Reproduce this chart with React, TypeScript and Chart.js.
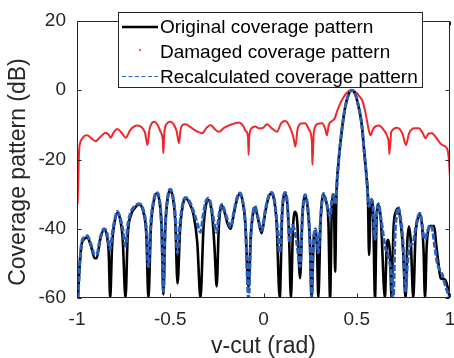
import React, { useEffect, useRef } from 'react';
import { Chart, registerables } from 'chart.js';

Chart.register(...registerables);

const X_TICKS = [-1, -0.5, 0, 0.5, 1];
const Y_TICKS = [-60, -40, -20, 0, 20];
const X_TITLE = 'v-cut (rad)';
const Y_TITLE = 'Coverage pattern (dB)';
const LEGEND_LABELS = ['Original coverage pattern', 'Damaged coverage pattern', 'Recalculated coverage pattern'];

// [v-cut (rad), dB]
const originalPattern: [number, number][] = [
  [-0.995,-60],[-0.985,-50],[-0.975,-44.5],[-0.962,-43],[-0.945,-42.5],[-0.925,-45],[-0.905,-48.5],[-0.895,-48.5],
  [-0.875,-43],[-0.855,-40.2],[-0.840,-42],[-0.830,-47],[-0.822,-60],[-0.812,-45],[-0.798,-38],[-0.784,-35.5],
  [-0.770,-37],[-0.755,-43],[-0.740,-60],[-0.728,-42],[-0.710,-36],[-0.690,-34],[-0.668,-33],[-0.645,-35],
  [-0.628,-42],[-0.617,-60],[-0.604,-40],[-0.588,-32],[-0.574,-29.8],[-0.558,-32],[-0.546,-40],[-0.537,-59],
  [-0.527,-40],[-0.513,-31],[-0.500,-28.9],[-0.486,-31],[-0.473,-38],[-0.461,-55.8],[-0.447,-40],[-0.432,-33],
  [-0.418,-31.2],[-0.398,-32.5],[-0.375,-36],[-0.355,-44],[-0.338,-60],[-0.322,-40],[-0.308,-33],[-0.296,-31.7],
  [-0.284,-33],[-0.272,-38],[-0.262,-46],[-0.251,-56.7],[-0.240,-40],[-0.224,-33.3],[-0.210,-35],[-0.193,-38.5],
  [-0.176,-40],[-0.160,-36],[-0.142,-31.5],[-0.126,-29.9],[-0.112,-32],[-0.098,-38],[-0.080,-57],[-0.068,-42],
  [-0.057,-36],[-0.046,-33.8],[-0.030,-37],[-0.010,-41.3],[0.010,-35],[0.030,-30.5],[0.044,-29.8],[0.058,-32],
  [0.070,-38],[0.087,-60],[0.100,-36],[0.115,-29.8],[0.128,-33],[0.137,-42],[0.147,-60],[0.158,-40],
  [0.169,-35.1],[0.181,-38],[0.196,-54.3],[0.209,-36],[0.223,-30.7],[0.237,-34],[0.249,-44],[0.258,-60],
  [0.268,-44],[0.278,-40.6],[0.287,-46],[0.294,-60],[0.306,-38],[0.321,-30.3],[0.335,-32],[0.348,-38],
  [0.357,-60],[0.366,-35],[0.374,-30.3],[0.379,-36],[0.384,-52.4],[0.391,-30.3],[0.401,-21.6],[0.419,-12],
  [0.437,-5.2],[0.455,-1.4],[0.473,0],[0.491,-1],[0.508,-4.3],[0.527,-10],[0.540,-17.7],[0.553,-25.4],
  [0.560,-31.2],[0.566,-47.6],[0.573,-36],[0.580,-31.7],[0.588,-36],[0.598,-60],[0.606,-38],[0.616,-33.1],
  [0.630,-38],[0.651,-60],[0.660,-46],[0.669,-43.2],[0.678,-47],[0.687,-60],[0.697,-40],[0.710,-35],
  [0.723,-34.1],[0.735,-38],[0.747,-45],[0.762,-60],[0.771,-44],[0.780,-39.4],[0.790,-44],[0.803,-60],
  [0.815,-42],[0.828,-37],[0.839,-36],[0.850,-39],[0.858,-46],[0.866,-60],[0.875,-45],[0.885,-40],
  [0.893,-39.2],[0.915,-39.2],[0.925,-44],[0.938,-50],[0.950,-54.3],[0.963,-54.5],[0.975,-54.8],[0.988,-57],
  [0.999,-60],
];

const recalculatedPattern: [number, number][] = [
  [-0.995,-60],[-0.985,-50],[-0.975,-44],[-0.962,-42.5],[-0.945,-42],[-0.925,-44.5],[-0.905,-47.5],[-0.895,-47.5],
  [-0.875,-42.5],[-0.855,-40],[-0.840,-41],[-0.823,-46],[-0.810,-41],[-0.798,-37.5],[-0.784,-35],[-0.770,-36.5],
  [-0.755,-40],[-0.740,-45],[-0.728,-39],[-0.710,-35],[-0.690,-33.5],[-0.668,-32.8],[-0.645,-34.5],[-0.628,-40],
  [-0.617,-51],[-0.604,-38],[-0.588,-31.5],[-0.574,-29.5],[-0.558,-31.5],[-0.546,-40],[-0.537,-58],[-0.527,-40],
  [-0.513,-30.5],[-0.500,-28.6],[-0.486,-30.5],[-0.473,-36],[-0.461,-47],[-0.447,-38],[-0.432,-32.5],[-0.418,-31],
  [-0.398,-32],[-0.375,-35],[-0.355,-38.5],[-0.338,-41],[-0.322,-35.5],[-0.308,-32],[-0.296,-31.2],[-0.284,-32.5],
  [-0.272,-36],[-0.262,-39],[-0.251,-41],[-0.240,-36.5],[-0.224,-33],[-0.210,-34.5],[-0.193,-37.5],[-0.176,-39.5],
  [-0.160,-35.5],[-0.142,-31],[-0.126,-29.7],[-0.112,-32],[-0.098,-38],[-0.080,-60],[-0.068,-42],[-0.057,-35.5],
  [-0.046,-33.5],[-0.030,-36.5],[-0.010,-40.5],[0.010,-34.5],[0.030,-30.2],[0.044,-29.5],[0.058,-31.5],[0.070,-37],
  [0.087,-47],[0.100,-34.5],[0.115,-29.5],[0.128,-32.5],[0.140,-44],[0.155,-39],[0.169,-41],[0.181,-45],
  [0.196,-51],[0.209,-35.5],[0.223,-30.2],[0.237,-33.5],[0.249,-43],[0.258,-60],[0.268,-44],[0.278,-40],
  [0.287,-43],[0.294,-47],[0.306,-37],[0.321,-29.8],[0.335,-32],[0.348,-35],[0.357,-36.5],[0.366,-32],
  [0.374,-30],[0.384,-33],[0.391,-29.8],[0.401,-21.6],[0.419,-12],[0.437,-5.2],[0.455,-1.4],[0.473,0],
  [0.491,-1],[0.508,-4.3],[0.527,-10],[0.540,-17.7],[0.553,-25.4],[0.560,-31],[0.566,-33.5],[0.573,-32.5],
  [0.580,-31.5],[0.588,-34],[0.598,-43],[0.606,-36],[0.616,-32.8],[0.630,-37],[0.651,-45],[0.669,-48],
  [0.683,-52],[0.696,-60],[0.705,-42],[0.715,-35.5],[0.723,-33.8],[0.735,-37],[0.747,-43],[0.755,-52],
  [0.762,-58],[0.772,-50],[0.785,-45],[0.803,-44],[0.815,-40],[0.828,-36.5],[0.839,-35.5],[0.850,-38.5],
  [0.858,-42],[0.866,-43],[0.878,-41],[0.893,-39],[0.905,-40],[0.918,-45],[0.932,-50],[0.946,-52],
  [0.960,-53.5],[0.973,-56],[0.985,-58],[0.999,-60],
];

const damagedPattern: [number, number][] = [
  [-0.997,-33],[-0.993,-26],[-0.989,-18],[-0.982,-15],[-0.971,-13.9],[-0.958,-13.1],[-0.945,-13],[-0.925,-13.8],
  [-0.900,-14.7],[-0.875,-13.5],[-0.846,-12.3],[-0.830,-12.9],[-0.819,-13.7],[-0.805,-12.3],[-0.784,-11.2],[-0.762,-12.2],
  [-0.739,-13.7],[-0.715,-11.5],[-0.695,-10.5],[-0.677,-10.2],[-0.655,-10.6],[-0.635,-12.3],[-0.622,-15.8],[-0.612,-11.5],
  [-0.600,-9.6],[-0.587,-9.1],[-0.570,-9.8],[-0.552,-12],[-0.540,-14.5],[-0.537,-18.2],[-0.532,-12.5],[-0.518,-9.6],
  [-0.498,-9.1],[-0.480,-10],[-0.465,-12],[-0.453,-15.3],[-0.445,-11.5],[-0.430,-9.9],[-0.417,-9.8],[-0.395,-10.5],
  [-0.360,-11.8],[-0.328,-12.4],[-0.305,-10.8],[-0.283,-10],[-0.262,-11.2],[-0.239,-12],[-0.210,-10.8],[-0.170,-9.8],
  [-0.131,-9.3],[-0.110,-10.2],[-0.095,-11.8],[-0.083,-13.5],[-0.080,-18.7],[-0.076,-13],[-0.060,-10.8],[-0.042,-10.5],
  [-0.025,-11],[-0.008,-11],[0.019,-9.8],[0.045,-11],[0.072,-12],[0.095,-9.5],[0.117,-8.9],[0.140,-10.5],
  [0.160,-13.5],[0.171,-16.3],[0.182,-11.5],[0.200,-9.6],[0.224,-9.5],[0.245,-11.5],[0.260,-15.3],[0.262,-21.6],
  [0.270,-12],[0.290,-9.7],[0.314,-9.5],[0.330,-11],[0.340,-13],[0.350,-10],[0.367,-8.9],[0.382,-8.1],
  [0.395,-6],[0.410,-4],[0.425,-2.4],[0.445,-0.8],[0.473,0],[0.500,-0.8],[0.520,-2.2],[0.530,-3],
  [0.546,-6.3],[0.556,-9.1],[0.573,-13],[0.590,-11],[0.618,-10.2],[0.645,-11.5],[0.665,-13.5],[0.671,-14.9],
  [0.675,-18.5],[0.685,-12],[0.716,-10.8],[0.745,-12.5],[0.764,-15.8],[0.780,-12.5],[0.810,-11],[0.832,-11],
  [0.855,-12.5],[0.868,-13.9],[0.885,-12.5],[0.903,-12.4],[0.930,-14],[0.957,-15.8],[0.984,-16.8],[0.994,-20],
  [0.999,-24.5],
];

const FONT = "'Liberation Sans', Arial, Helvetica, sans-serif";
const AXIS_COLOR = '#262626';
const BLACK = '#000000';
const RED = '#f0262c';
const BLUE = '#2a5fbe';

const toXY = (arr: [number, number][]) => arr.map(([x, y]) => ({ x, y }));

const matlabPlugin = {
  id: 'matlabAxes',
  afterDatasetsDraw(chart: any) {
    const { ctx, chartArea: a, scales } = chart;
    ctx.save();
    ctx.strokeStyle = AXIS_COLOR;
    ctx.lineWidth = 1;
    const L = Math.round(a.left) + 0.5;
    const R = Math.round(a.right) - 0.5;
    const T = Math.round(a.top) + 0.5;
    const B = Math.round(a.bottom) - 0.5;
    ctx.strokeRect(L, T, R - L, B - T);
    ctx.beginPath();
    for (const v of X_TICKS) {
      const x = Math.round(scales.x.getPixelForValue(v)) + 0.5;
      ctx.moveTo(x, B); ctx.lineTo(x, B - 4);
      ctx.moveTo(x, T); ctx.lineTo(x, T + 4);
    }
    for (const v of Y_TICKS) {
      const y = Math.round(scales.y.getPixelForValue(v)) + 0.5;
      ctx.moveTo(L, y); ctx.lineTo(L + 4, y);
      ctx.moveTo(R, y); ctx.lineTo(R - 4, y);
    }
    ctx.stroke();
    ctx.restore();
  },
  afterDraw(chart: any) {
    const { ctx } = chart;
    ctx.save();
    ctx.fillStyle = AXIS_COLOR;
    ctx.font = `23px ${FONT}`;
    ctx.textAlign = 'center';
    ctx.textBaseline = 'middle';
    ctx.translate(19, 172);
    ctx.rotate(-Math.PI / 2);
    ctx.fillText(Y_TITLE, 0, 0);
    ctx.restore();

    ctx.save();
    const bx = 118.5, by = 12.5, bw = 304, bh = 75;
    ctx.fillStyle = '#ffffff';
    ctx.fillRect(bx, by, bw, bh);
    ctx.strokeStyle = AXIS_COLOR;
    ctx.lineWidth = 1;
    ctx.strokeRect(bx, by, bw, bh);
    const rows = [27, 52, 76.5];
    ctx.strokeStyle = BLACK; ctx.lineWidth = 2.5;
    ctx.beginPath(); ctx.moveTo(122, rows[0]); ctx.lineTo(158, rows[0]); ctx.stroke();
    ctx.fillStyle = RED;
    ctx.beginPath(); ctx.arc(140, rows[1] - 2, 1, 0, Math.PI * 2); ctx.fill();
    ctx.strokeStyle = BLUE; ctx.lineWidth = 1.2; ctx.setLineDash([4, 2.5]);
    ctx.beginPath(); ctx.moveTo(122, rows[2]); ctx.lineTo(158, rows[2]); ctx.stroke();
    ctx.setLineDash([]);
    ctx.fillStyle = '#000000';
    ctx.font = `19px ${FONT}`;
    ctx.textBaseline = 'middle';
    ctx.textAlign = 'left';
    LEGEND_LABELS.forEach((t, i) => ctx.fillText(t, 160, rows[i] + 1));
    ctx.restore();
  },
};

export default function App() {
  const ref = useRef<HTMLCanvasElement | null>(null);
  useEffect(() => {
    document.body.style.margin = '0';
    const canvas = ref.current;
    if (!canvas) return;
    const chart = new Chart(canvas, {
      type: 'line',
      data: {
        datasets: [
          {
            label: LEGEND_LABELS[0],
            data: toXY(originalPattern),
            borderColor: BLACK,
            borderWidth: 2.6,
            pointRadius: 0,
            cubicInterpolationMode: 'monotone',
            order: 2,
          },
          {
            label: LEGEND_LABELS[1],
            data: toXY(damagedPattern),
            borderColor: RED,
            borderWidth: 2,
            pointRadius: 0,
            cubicInterpolationMode: 'monotone',
            order: 3,
          },
          {
            label: LEGEND_LABELS[2],
            data: toXY(recalculatedPattern),
            borderColor: BLUE,
            borderWidth: 3,
            borderDash: [6, 2],
            pointRadius: 0,
            cubicInterpolationMode: 'monotone',
            order: 1,
          },
        ],
      },
      options: {
        animation: false,
        responsive: false,
        devicePixelRatio: 1,
        layout: { padding: { left: 0, right: 4, top: 21, bottom: 0 } },
        plugins: { legend: { display: false }, tooltip: { enabled: false } },
        scales: {
          x: {
            type: 'linear',
            min: -1,
            max: 1,
            afterBuildTicks: (s: any) => { s.ticks = X_TICKS.map((v) => ({ value: v })); },
            afterFit: (s: any) => { s.height = 60; s.paddingLeft = 0; s.paddingRight = 0; },
            grid: { display: false, drawTicks: false },
            border: { display: false },
            ticks: {
              color: AXIS_COLOR,
              font: { family: FONT, size: 19 },
              padding: 10,
              maxRotation: 0,
              callback: (v: any) => String(v),
            },
            title: {
              display: true,
              text: X_TITLE,
              color: AXIS_COLOR,
              font: { family: FONT, size: 23, lineHeight: 1 },
              padding: { top: 0, bottom: 0 },
            },
          },
          y: {
            type: 'linear',
            min: -60,
            max: 20,
            afterBuildTicks: (s: any) => { s.ticks = Y_TICKS.map((v) => ({ value: v })); },
            afterFit: (s: any) => { s.width = 77; s.paddingTop = 0; s.paddingBottom = 0; },
            grid: { display: false, drawTicks: false },
            border: { display: false },
            ticks: {
              color: AXIS_COLOR,
              font: { family: FONT, size: 19 },
              padding: 11,
              callback: (v: any) => String(v),
            },
            title: { display: false },
          },
        },
      },
      plugins: [matlabPlugin],
    } as any);
    return () => chart.destroy();
  }, []);
  return (
    <div style={{ position: 'fixed', left: 0, top: 0, width: 454, height: 358, background: '#fff' }}>
      <canvas ref={ref} width={454} height={358} style={{ display: 'block' }} />
    </div>
  );
}
